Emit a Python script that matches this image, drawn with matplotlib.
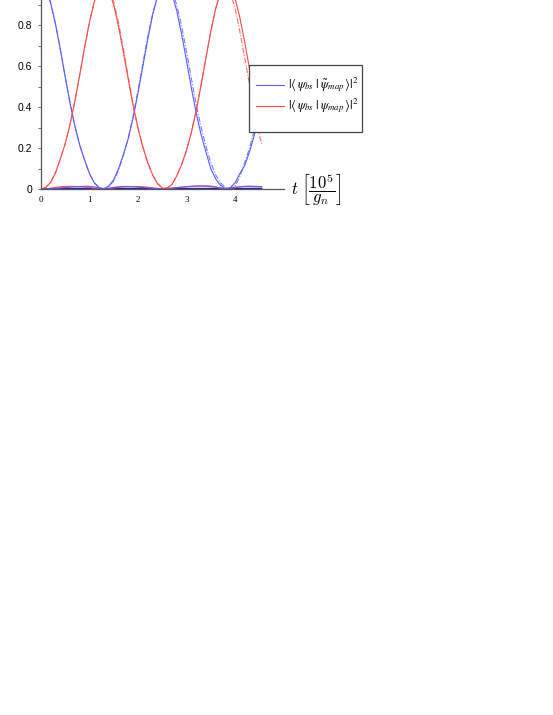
import matplotlib
matplotlib.use("Agg")
import matplotlib.pyplot as plt
from matplotlib.patches import Rectangle
from matplotlib.lines import Line2D

plt.rcParams['mathtext.fontset'] = 'cm'

# time axis (units of 10^5 / g_n)
t = [0.0, 0.1, 0.2, 0.3, 0.4, 0.5, 0.6, 0.7, 0.8, 0.9,
     1.0, 1.1, 1.2, 1.3, 1.4, 1.5, 1.6, 1.7, 1.8, 1.9,
     2.0, 2.1, 2.2, 2.3, 2.4, 2.5, 2.6, 2.7, 2.8, 2.9,
     3.0, 3.1, 3.2, 3.3, 3.4, 3.5, 3.6, 3.7, 3.8, 3.9,
     4.0, 4.1, 4.2, 4.3, 4.4, 4.5, 4.55]

# |<psi_bs | psi~_map>|^2  (blue, solid)
blue_solid = [1.000, 0.976, 0.908, 0.805, 0.680, 0.547, 0.419, 0.306, 0.213, 0.141,
              0.075, 0.030, 0.006, 0.001, 0.015, 0.045, 0.100, 0.170, 0.247, 0.349,
              0.469, 0.600, 0.731, 0.849, 0.940, 0.991, 0.996, 0.954, 0.870, 0.756,
              0.627, 0.494, 0.372, 0.266, 0.182, 0.100, 0.050, 0.018, 0.002, 0.006,
              0.030, 0.075, 0.115, 0.182, 0.266, 0.372, 0.420]
# blue, dash-dot companion
blue_dash = [1.000, 0.976, 0.908, 0.805, 0.680, 0.547, 0.419, 0.306, 0.213, 0.141,
             0.075, 0.030, 0.006, 0.001, 0.012, 0.040, 0.092, 0.165, 0.250, 0.358,
             0.482, 0.614, 0.742, 0.855, 0.942, 0.990, 0.998, 0.968, 0.900, 0.795,
             0.672, 0.540, 0.414, 0.302, 0.210, 0.130, 0.070, 0.030, 0.008, 0.002,
             0.015, 0.060, 0.130, 0.200, 0.290, 0.390, 0.440]
# |<psi_bs | psi_map>|^2  (red, solid)
red_solid = [0.000, 0.008, 0.033, 0.080, 0.148, 0.222, 0.317, 0.431, 0.560, 0.693,
             0.816, 0.917, 0.981, 1.000, 0.971, 0.899, 0.793, 0.666, 0.534, 0.407,
             0.296, 0.205, 0.130, 0.070, 0.028, 0.005, 0.004, 0.022, 0.065, 0.120,
             0.189, 0.276, 0.383, 0.507, 0.640, 0.769, 0.880, 0.960, 0.998, 0.988,
             0.933, 0.838, 0.718, 0.586, 0.456, 0.338, 0.285]
# red, dash-dot companion
red_dash = [0.000, 0.008, 0.033, 0.080, 0.148, 0.222, 0.317, 0.431, 0.560, 0.693,
            0.816, 0.917, 0.981, 1.000, 0.980, 0.915, 0.812, 0.684, 0.548, 0.416,
            0.300, 0.205, 0.128, 0.068, 0.026, 0.005, 0.004, 0.022, 0.065, 0.120,
            0.189, 0.276, 0.383, 0.507, 0.640, 0.769, 0.880, 0.960, 0.990, 0.960,
            0.885, 0.770, 0.640, 0.510, 0.380, 0.265, 0.220]
# small leakage curves near zero
red_small = [0.000, 0.001, 0.004, 0.008, 0.011, 0.013, 0.013, 0.012, 0.011, 0.009,
             0.007, 0.004, 0.002, 0.001, 0.002, 0.005, 0.008, 0.010, 0.011, 0.012,
             0.012, 0.011, 0.009, 0.006, 0.003, 0.001, 0.001, 0.003, 0.006, 0.009,
             0.011, 0.013, 0.014, 0.014, 0.013, 0.011, 0.008, 0.005, 0.002, 0.002,
             0.006, 0.010, 0.013, 0.014, 0.013, 0.012, 0.011]
blue_small = [0.000, 0.001, 0.002, 0.003, 0.005, 0.007, 0.009, 0.011, 0.012, 0.013,
              0.013, 0.010, 0.005, 0.001, 0.004, 0.008, 0.011, 0.012, 0.012, 0.011,
              0.009, 0.007, 0.005, 0.003, 0.002, 0.002, 0.003, 0.005, 0.007, 0.009,
              0.011, 0.013, 0.014, 0.015, 0.015, 0.014, 0.010, 0.005, 0.001, 0.005,
              0.009, 0.011, 0.012, 0.012, 0.011, 0.011, 0.011]
navy_small = [0.000, 0.001, 0.002, 0.002, 0.003, 0.003, 0.003, 0.003, 0.003, 0.003,
              0.003, 0.002, 0.001, 0.000, 0.001, 0.002, 0.003, 0.003, 0.003, 0.003,
              0.003, 0.003, 0.002, 0.002, 0.001, 0.000, 0.001, 0.002, 0.003, 0.003,
              0.003, 0.003, 0.003, 0.003, 0.003, 0.003, 0.002, 0.001, 0.000, 0.001,
              0.002, 0.003, 0.003, 0.003, 0.003, 0.003, 0.003]

xticks = [0, 1, 2, 3, 4]
yticks = [0, 0.2, 0.4, 0.6, 0.8]
ytick_labels = ["0", "0.2", "0.4", "0.6", "0.8"]
labels = [r'$|\langle\,\psi_{bs}\;|\;\tilde{\psi}_{map}\,\rangle|^2$',
          r'$|\langle\,\psi_{bs}\;|\;\psi_{map}\,\rangle|^2$']

BLUE = '#5a5aff'
RED = '#ff4a4a'
dashdot = (0, (5, 1.5, 1, 1.5))

W, H = 553, 715
fig = plt.figure(figsize=(W / 100, H / 100), dpi=100)
ax = fig.add_axes([41 / W, 1 - 189 / H, 242.5 / W, 204.6 / H])
ax.set_xlim(0, 5)
ax.set_ylim(0, 1)

lw = 0.8
ax.plot(t, blue_dash, color=BLUE, lw=lw, ls=dashdot, alpha=0.8)
ax.plot(t, red_dash, color=RED, lw=lw, ls=dashdot, alpha=0.8)
ax.plot(t, navy_small, color='#1a1a9a', lw=lw)
ax.plot(t, red_small, color=RED, lw=lw)
ax.plot(t, blue_small, color=BLUE, lw=lw)
ax.plot(t, blue_solid, color=BLUE, lw=lw)
ax.plot(t, red_solid, color=RED, lw=lw)

for s in ['top', 'right']:
    ax.spines[s].set_visible(False)
for s in ['left', 'bottom']:
    ax.spines[s].set_color('#555555')
    ax.spines[s].set_linewidth(0.9)

ax.set_yticks(yticks)
ax.set_yticklabels(ytick_labels, fontsize=7.5, family='Liberation Sans')
ax.set_yticks([0.1, 0.3, 0.5, 0.7, 0.9], minor=True)
ax.tick_params(axis='y', which='both', direction='out', length=2.5, width=0.6,
               color='#555555', pad=4)
ax.set_xticks(xticks)
ax.set_xticklabels([str(v) for v in xticks], fontsize=6.5, family='Liberation Serif')
ax.tick_params(axis='x', length=0, pad=5)

# legend drawn manually in figure pixel coordinates
def fx(px):
    return px / W

def fy(py):
    return 1 - py / H

fig.patches.append(Rectangle((fx(249), fy(132)), fx(362) - fx(249), fy(65) - fy(132),
                             transform=fig.transFigure, facecolor='white',
                             edgecolor='#444444', linewidth=0.9, zorder=10))
for py, col, lab in [(85, BLUE, labels[0]), (106, RED, labels[1])]:
    fig.lines.append(Line2D([fx(256), fx(284)], [fy(py), fy(py)], color=col, lw=lw,
                            transform=fig.transFigure, zorder=11))
    fig.text(fx(288), fy(py), lab, fontsize=9, va='center', ha='left', zorder=12,
             math_fontfamily='stix')

fig.text(fx(291), fy(189), r'$t\;\left[\dfrac{10^5}{g_n}\right]$',
         fontsize=12, va='center', ha='left')

fig.savefig('out.png', dpi=100)
